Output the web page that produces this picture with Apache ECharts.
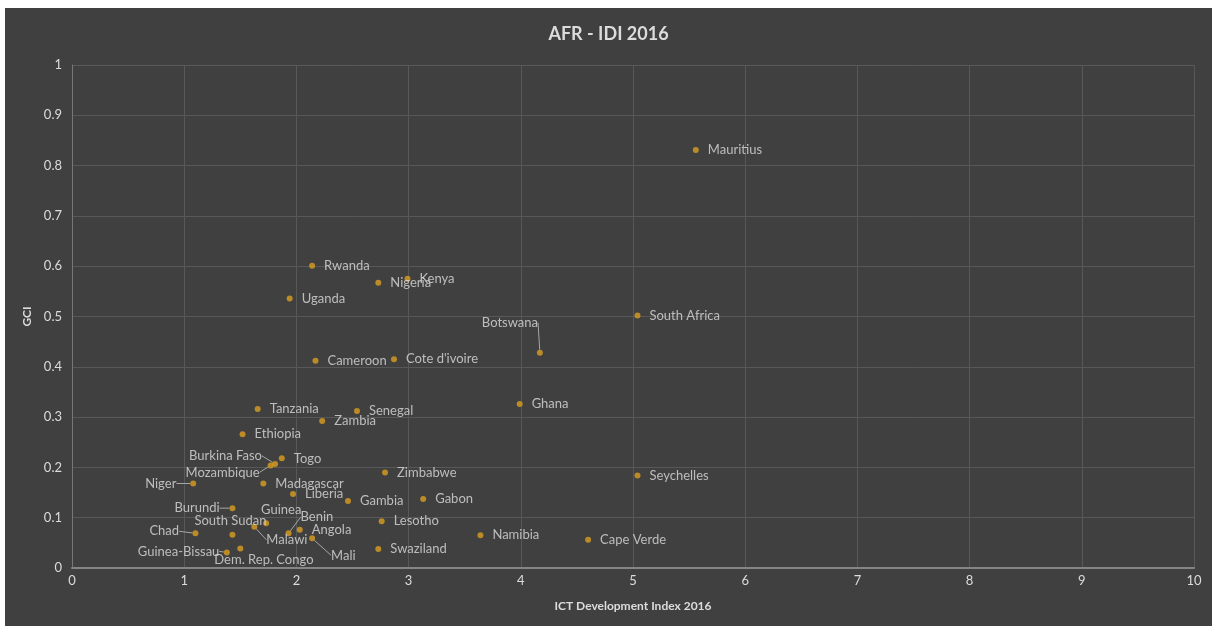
<!DOCTYPE html>
<html>
<head>
<meta charset="utf-8">
<title>AFR - IDI 2016</title>
<script src="https://cdn.jsdelivr.net/npm/echarts@6/dist/echarts.min.js"></script>
<style>
  html, body { margin: 0; padding: 0; background: #fff; }
  #chart { position: absolute; left: 5px; top: 8px; width: 1207px; height: 618px; }
</style>
</head>
<body>
<div id="chart"></div>
<script>
// data
var countries = ['Mauritius', 'South Africa', 'Seychelles', 'Cape Verde', 'Botswana', 'Ghana', 'Namibia',
  'Gabon', 'Kenya', "Cote d'ivoire", 'Zimbabwe', 'Lesotho', 'Nigeria', 'Swaziland', 'Senegal', 'Gambia',
  'Zambia', 'Cameroon', 'Rwanda', 'Mali', 'Angola', 'Liberia', 'Uganda', 'Benin', 'Togo', 'Burkina Faso',
  'Mozambique', 'Guinea', 'Madagascar', 'Tanzania', 'Malawi', 'Ethiopia', 'Dem. Rep. Congo', 'South Sudan',
  'Burundi', 'Guinea-Bissau', 'Chad', 'Niger']
var idi = [5.56, 5.04, 5.04, 4.60, 4.17, 3.99, 3.64,
  3.13, 2.99, 2.87, 2.79, 2.76, 2.73, 2.73, 2.54, 2.46,
  2.23, 2.17, 2.14, 2.14, 2.03, 1.97, 1.94, 1.93, 1.87, 1.81,
  1.77, 1.73, 1.705, 1.655, 1.625, 1.52, 1.50, 1.43,
  1.43, 1.38, 1.10, 1.08]
var gci = [0.831, 0.502, 0.184, 0.056, 0.428, 0.326, 0.065,
  0.137, 0.575, 0.415, 0.190, 0.093, 0.567, 0.038, 0.312, 0.133,
  0.292, 0.412, 0.601, 0.059, 0.076, 0.147, 0.536, 0.069, 0.218, 0.207,
  0.204, 0.089, 0.168, 0.316, 0.082, 0.266, 0.039, 0.066,
  0.119, 0.031, 0.069, 0.168]
var xMin = 0, xMax = 10, xStep = 1
var yMin = 0, yMax = 1, yStep = 0.1

// labels that were dragged away from the default spot (pixels), and which ones get a leader line
var labelShift = {
  'Botswana': [-70, -30],
  'Burkina Faso': [-98, -8],
  'Mozambique': [-97, 7],
  'Niger': [-60, 0],
  'Burundi': [-70, 0],
  'Chad': [-58, -2],
  'Guinea-Bissau': [-101, -1],
  'Dem. Rep. Congo': [-38, 11],
  'South Sudan': [-50, -14],
  'Guinea': [-17, -13],
  'Malawi': [0, 13],
  'Benin': [0, -16],
  'Mali': [7, 17]
}
var withLine = ['Botswana', 'Burkina Faso', 'Mozambique', 'Niger', 'Burundi', 'Chad', 'Guinea-Bissau',
  'Malawi', 'Benin', 'Mali']

var textColor = '#dcdcdc'
var font = 'Lato'

var points = countries.map(function (c, i) {
  return {
    name: c,
    value: [idi[i], gci[i]],
    labelLine: { show: withLine.indexOf(c) >= 0 }
  }
})

var chart = echarts.init(document.getElementById('chart'))
var option = {
  backgroundColor: '#404040',
  animation: false,
  title: {
    text: 'AFR - IDI 2016',
    left: 'center',
    top: 12,
    textStyle: { color: textColor, fontFamily: font, fontSize: 18, fontWeight: 'bold' }
  },
  grid: {
    left: 67,
    right: 18,
    top: 57,
    bottom: 58
  },
  xAxis: {
    type: 'value',
    min: xMin,
    max: xMax,
    interval: xStep,
    name: 'ICT Development Index 2016',
    nameLocation: 'middle',
    nameGap: 32,
    nameTextStyle: { color: textColor, fontFamily: font, fontSize: 12, fontWeight: 'bold' },
    axisLine: { lineStyle: { color: '#858585', width: 2 } },
    axisTick: { show: false },
    axisLabel: { color: textColor, fontFamily: font, fontSize: 13, margin: 6 },
    splitLine: { show: true, lineStyle: { color: '#585858', width: 1 } }
  },
  yAxis: {
    type: 'value',
    min: yMin,
    max: yMax,
    interval: yStep,
    name: 'GCI',
    nameLocation: 'middle',
    nameGap: 33,
    nameTextStyle: { color: textColor, fontFamily: font, fontSize: 12, fontWeight: 'bold' },
    axisLine: { show: true, lineStyle: { color: '#777', width: 1 } },
    axisTick: { show: false },
    axisLabel: { color: textColor, fontFamily: font, fontSize: 13, margin: 10 },
    splitLine: { show: true, lineStyle: { color: '#585858', width: 1 } }
  },
  series: [{
    type: 'scatter',
    symbolSize: 6,
    itemStyle: { color: '#d89e1f' },
    data: points,
    label: {
      show: true,
      position: 'right',
      distance: 9,
      formatter: '{b}',
      color: textColor,
      fontFamily: font,
      fontSize: 13
    },
    labelLine: {
      lineStyle: { color: '#a6a6a6', width: 1 }
    },
    labelLayout: function (params) {
      var s = labelShift[countries[params.dataIndex]]
      return s ? { dx: s[0], dy: s[1] } : {}
    }
  }]
}
chart.setOption(option)
</script>
</body>
</html>
